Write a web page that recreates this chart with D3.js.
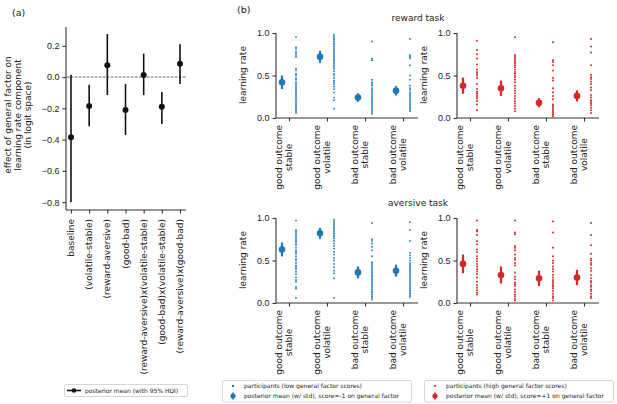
<!DOCTYPE html>
<html>
<head>
<meta charset="utf-8">
<script src="https://cdn.jsdelivr.net/npm/d3@7"></script>
<style>
  body { margin: 0; background: #fff; }
  svg { font-family: "DejaVu Sans", sans-serif; }
  text { fill: #222; }
</style>
</head>
<body>
<div id="chart"></div>
<script>
// ---- panel (a) data: effect of general factor, posterior mean + 95% HDI
const effectNames = ["baseline", "(volatile-stable)", "(reward-aversive)", "(good-bad)",
  "(reward-aversive)x(volatile-stable)", "(good-bad)x(volatile-stable)", "(reward-aversive)x(good-bad)"];
const effectMean = [-0.385, -0.185, 0.075, -0.21, 0.013, -0.19, 0.085];
const effectLow = [-0.80, -0.315, -0.115, -0.37, -0.115, -0.30, -0.045];
const effectHigh = [0.015, -0.05, 0.275, -0.045, 0.15, -0.095, 0.21];
const effectTicks = [0.2, 0.0, -0.2, -0.4, -0.6, -0.8];

// ---- panel (b) data: learning rates per condition
const conditions = [["good outcome", "stable"], ["good outcome", "volatile"], ["bad outcome", "stable"], ["bad outcome", "volatile"]];
const rateTicks = [0, 0.5, 1];

// reward task, score = -1 (low)
const rewardLowMean = [0.42, 0.72, 0.24, 0.32];
const rewardLowStd = [0.08, 0.07, 0.05, 0.055];
const rewardLowPts = [
  [0.95, 0.83, 0.81, 0.78, 0.76, 0.74, 0.72, 0.58, 0.56, 0.52, 0.5, 0.47, 0.45, 0.42, 0.40, 0.38, 0.36, 0.34, 0.32, 0.30, 0.28, 0.26, 0.24, 0.22, 0.20, 0.18, 0.16, 0.14, 0.12, 0.10, 0.08, 0.06],
  [0.98, 0.96, 0.94, 0.92, 0.90, 0.88, 0.86, 0.84, 0.82, 0.80, 0.78, 0.76, 0.74, 0.72, 0.70, 0.68, 0.66, 0.64, 0.62, 0.60, 0.58, 0.55, 0.52, 0.50, 0.47, 0.44, 0.42, 0.40, 0.37, 0.34, 0.30, 0.24, 0.21, 0.11],
  [0.90, 0.70, 0.68, 0.45, 0.42, 0.40, 0.38, 0.35, 0.33, 0.31, 0.29, 0.27, 0.25, 0.23, 0.21, 0.19, 0.17, 0.15, 0.13, 0.11, 0.09, 0.07, 0.05],
  [0.93, 0.74, 0.72, 0.70, 0.62, 0.50, 0.45, 0.38, 0.35, 0.33, 0.30, 0.28, 0.26, 0.24, 0.22, 0.20, 0.18, 0.16, 0.14, 0.12, 0.10, 0.08]
];
// reward task, score = +1 (high)
const rewardHighMean = [0.38, 0.35, 0.18, 0.26];
const rewardHighStd = [0.095, 0.09, 0.053, 0.065];
const rewardHighPts = [
  [0.91, 0.80, 0.75, 0.70, 0.63, 0.57, 0.54, 0.52, 0.50, 0.47, 0.40, 0.34, 0.31, 0.29, 0.27, 0.25, 0.23, 0.20, 0.16, 0.09],
  [0.95, 0.74, 0.72, 0.70, 0.68, 0.66, 0.64, 0.62, 0.60, 0.57, 0.54, 0.52, 0.50, 0.48, 0.45, 0.42, 0.38, 0.35, 0.32, 0.29, 0.26, 0.23, 0.20, 0.17, 0.14, 0.11, 0.08],
  [0.89, 0.68, 0.66, 0.62, 0.56, 0.47, 0.44, 0.35, 0.30, 0.26, 0.22, 0.16, 0.14, 0.12, 0.10, 0.08, 0.06, 0.04, 0.02],
  [0.93, 0.84, 0.77, 0.62, 0.51, 0.48, 0.46, 0.43, 0.40, 0.36, 0.33, 0.27, 0.24, 0.21, 0.19, 0.17, 0.15, 0.12, 0.09, 0.06]
];
// aversive task, score = -1 (low)
const aversiveLowMean = [0.63, 0.82, 0.36, 0.38];
const aversiveLowStd = [0.082, 0.065, 0.07, 0.07];
const aversiveLowPts = [
  [0.97, 0.86, 0.84, 0.82, 0.80, 0.78, 0.76, 0.74, 0.72, 0.70, 0.68, 0.65, 0.62, 0.60, 0.58, 0.55, 0.52, 0.50, 0.47, 0.44, 0.42, 0.40, 0.37, 0.34, 0.30, 0.27, 0.25, 0.19, 0.17, 0.06],
  [0.98, 0.96, 0.94, 0.92, 0.90, 0.88, 0.86, 0.84, 0.82, 0.80, 0.78, 0.76, 0.73, 0.70, 0.67, 0.64, 0.60, 0.57, 0.53, 0.50, 0.46, 0.42, 0.38, 0.35, 0.29, 0.06],
  [0.94, 0.75, 0.73, 0.70, 0.66, 0.62, 0.55, 0.48, 0.46, 0.44, 0.42, 0.40, 0.38, 0.36, 0.34, 0.32, 0.30, 0.28, 0.26, 0.24, 0.22, 0.20, 0.18, 0.16, 0.14, 0.12, 0.10, 0.08, 0.06, 0.04],
  [0.95, 0.86, 0.73, 0.59, 0.56, 0.53, 0.50, 0.47, 0.45, 0.43, 0.41, 0.39, 0.37, 0.35, 0.33, 0.31, 0.29, 0.27, 0.25, 0.23, 0.21, 0.19, 0.17, 0.15, 0.13, 0.11, 0.09, 0.07]
];
// aversive task, score = +1 (high)
const aversiveHighMean = [0.46, 0.33, 0.29, 0.30];
const aversiveHighStd = [0.11, 0.10, 0.09, 0.09];
const aversiveHighPts = [
  [0.97, 0.86, 0.84, 0.80, 0.73, 0.69, 0.63, 0.60, 0.55, 0.52, 0.49, 0.46, 0.43, 0.40, 0.37, 0.34, 0.30, 0.25, 0.21, 0.18, 0.15, 0.12, 0.10],
  [0.97, 0.83, 0.81, 0.67, 0.65, 0.62, 0.57, 0.53, 0.51, 0.47, 0.44, 0.36, 0.31, 0.28, 0.24, 0.22, 0.20, 0.16, 0.13, 0.10, 0.08, 0.05, 0.03],
  [0.96, 0.83, 0.65, 0.55, 0.50, 0.47, 0.43, 0.40, 0.37, 0.33, 0.30, 0.27, 0.25, 0.23, 0.21, 0.19, 0.17, 0.14, 0.11, 0.08, 0.06, 0.03],
  [0.94, 0.80, 0.68, 0.58, 0.52, 0.50, 0.47, 0.45, 0.41, 0.38, 0.33, 0.29, 0.26, 0.24, 0.21, 0.19, 0.16, 0.14, 0.11, 0.08, 0.06]
];

const blue = "#1f77b4", red = "#d62728", axisColor = "#333";

const svg = d3.select("#chart").append("svg")
    .attr("width", 617)
    .attr("height", 404);

// ================= panel (a) =================
const ya = d3.scaleLinear().domain([-0.85, 0.32]).range([210, 27]);
const xa = d3.scalePoint().domain(effectNames).range([71, 180]);

svg.append("text").attr("x", 12).attr("y", 16).attr("font-size", 9.5).text("(a)");

const ga = svg.append("g");
ga.append("g")
    .attr("transform", "translate(66,0)")
    .call(d3.axisLeft(ya).tickValues(effectTicks).tickSize(3.5).tickFormat(d => d3.format(".1f")(d).replace("-", "\u2212")))
    .call(g => g.select(".domain").attr("d", "M0," + 27 + "V" + 210));
ga.append("g")
    .attr("transform", "translate(0,210)")
    .call(d3.axisBottom(xa).tickSize(3.5).tickFormat(""))
    .call(g => g.select(".domain").attr("d", "M66,0H186"));

ga.selectAll(".tick text").attr("font-size", 9).attr("fill", "#222");
ga.selectAll(".domain, .tick line").attr("stroke", axisColor).attr("stroke-width", 1.1);

// rotated x labels
ga.selectAll(".xlab")
    .data(effectNames)
    .enter().append("text")
    .attr("class", "xlab")
    .attr("transform", d => "translate(" + xa(d) + ",219) rotate(-90)")
    .attr("text-anchor", "end")
    .attr("dy", "0.35em")
    .attr("font-size", 9)
    .text(d => d);

// zero line
ga.append("line")
    .attr("x1", 67).attr("x2", 186)
    .attr("y1", ya(0)).attr("y2", ya(0))
    .attr("stroke", "#333").attr("stroke-width", 0.8)
    .attr("stroke-dasharray", "2.5,1.5");

// HDI bars and means
ga.selectAll(".hdi")
    .data(effectNames)
    .enter().append("line")
    .attr("x1", d => xa(d)).attr("x2", d => xa(d))
    .attr("y1", (d, i) => ya(effectLow[i])).attr("y2", (d, i) => ya(effectHigh[i]))
    .attr("stroke", "#111").attr("stroke-width", 1.6);
ga.selectAll(".mean")
    .data(effectNames)
    .enter().append("circle")
    .attr("cx", d => xa(d)).attr("cy", (d, i) => ya(effectMean[i]))
    .attr("r", 3)
    .attr("fill", "#111");

// y label, three lines
const ylab = ga.append("text")
    .attr("transform", "translate(15,115) rotate(-90)")
    .attr("text-anchor", "middle")
    .attr("font-size", 9);
["effect of general factor on", "learning rate component", "(in logit space)"].forEach((t, i) => {
    ylab.append("tspan").attr("x", 0).attr("y", -7 + i * 10).attr("dy", "0.35em").text(t);
});

// legend (a)
const la = ga.append("g");
la.append("rect").attr("x", 64.5).attr("y", 384.5).attr("width", 123).attr("height", 12)
    .attr("fill", "#fff").attr("stroke", "#ccc").attr("stroke-width", 0.8).attr("rx", 1.5);
la.append("line").attr("x1", 67).attr("x2", 81).attr("y1", 390.5).attr("y2", 390.5)
    .attr("stroke", "#111").attr("stroke-width", 1.6);
la.append("circle").attr("cx", 74).attr("cy", 390.5).attr("r", 2.3).attr("fill", "#111");
la.append("text").attr("x", 85).attr("y", 390.5).attr("dy", "0.35em").attr("font-size", 6)
    .text("posterior mean (with 95% HDI)");

// ================= panel (b) =================
svg.append("text").attr("x", 237).attr("y", 13).attr("font-size", 9.5).text("(b)");
svg.append("text").attr("x", 418).attr("y", 21).attr("text-anchor", "middle").attr("font-size", 9).text("reward task");
svg.append("text").attr("x", 418).attr("y", 206).attr("text-anchor", "middle").attr("font-size", 9).text("aversive task");

function drawPanel(left, top, means, stds, pts, color, square) {
    const x = d3.scalePoint().domain(conditions.map(c => c.join(" "))).range([left + 13, left + 127]);
    const y = d3.scaleLinear().domain([0, 1]).range([top + 85, top]);
    const g = svg.append("g");

    g.append("g")
        .attr("transform", "translate(" + left + ",0)")
        .call(d3.axisLeft(y).tickValues(rateTicks).tickSize(3.5).tickFormat(d3.format(".1f")))
        .call(s => s.select(".domain").attr("d", "M0," + top + "V" + (top + 85)));
    g.append("g")
        .attr("transform", "translate(0," + (top + 85) + ")")
        .call(d3.axisBottom(x).tickSize(3.5).tickFormat(""))
        .call(s => s.select(".domain").attr("d", "M" + left + ",0H" + (left + 142)));
    g.selectAll(".tick text").attr("font-size", 9).attr("fill", "#222");
    g.selectAll(".domain, .tick line").attr("stroke", axisColor).attr("stroke-width", 1.1);

    g.append("text")
        .attr("transform", "translate(" + (left - 33) + "," + (top + 42) + ") rotate(-90)")
        .attr("text-anchor", "middle").attr("dy", "0.35em").attr("font-size", 9)
        .text("learning rate");

    // two-line rotated condition labels, second line centred under the first
    conditions.forEach(c => {
        const cx = x(c.join(" "));
        const first = g.append("text")
            .attr("transform", "translate(" + (cx - 10) + "," + (top + 92) + ") rotate(-90)")
            .attr("text-anchor", "end").attr("dy", "0.35em").attr("font-size", 9)
            .text(c[0]);
        const w0 = first.node().getComputedTextLength();
        g.append("text")
            .attr("transform", "translate(" + cx + "," + (top + 92 + w0 / 2) + ") rotate(-90)")
            .attr("text-anchor", "middle").attr("dy", "0.35em").attr("font-size", 9)
            .text(c[1]);
    });

    // participants
    conditions.forEach((c, i) => {
        const cx = x(c.join(" ")) + 7;
        const sel = g.selectAll(".p" + i).data(pts[i]).enter();
        if (square) {
            sel.append("rect")
                .attr("x", cx - 0.8).attr("y", d => y(d) - 0.8)
                .attr("width", 1.6).attr("height", 1.6)
                .attr("fill", color);
        } else {
            sel.append("circle")
                .attr("cx", cx).attr("cy", d => y(d)).attr("r", 1)
                .attr("fill", color);
        }
    });

    // posterior means with std
    conditions.forEach((c, i) => {
        const cx = x(c.join(" ")) - 7;
        g.append("line")
            .attr("x1", cx).attr("x2", cx)
            .attr("y1", y(means[i] - stds[i])).attr("y2", y(means[i] + stds[i]))
            .attr("stroke", color).attr("stroke-width", 2.2);
        g.append("circle")
            .attr("cx", cx).attr("cy", y(means[i])).attr("r", 3.3)
            .attr("fill", color);
    });
}

drawPanel(276, 33, rewardLowMean, rewardLowStd, rewardLowPts, blue, true);
drawPanel(457, 33, rewardHighMean, rewardHighStd, rewardHighPts, red, false);
drawPanel(276, 218, aversiveLowMean, aversiveLowStd, aversiveLowPts, blue, true);
drawPanel(457, 218, aversiveHighMean, aversiveHighStd, aversiveHighPts, red, false);

// legends (b)
function drawLegend(left, color, square, line1, line2) {
    const g = svg.append("g");
    g.append("rect").attr("x", left + 0.5).attr("y", 380.5).attr("width", 189).attr("height", 21.5)
        .attr("fill", "#fff").attr("stroke", "#ccc").attr("stroke-width", 0.8).attr("rx", 1.5);
    if (square) {
        g.append("rect").attr("x", left + 10).attr("y", 385).attr("width", 2).attr("height", 2).attr("fill", color);
    } else {
        g.append("circle").attr("cx", left + 11).attr("cy", 386).attr("r", 1.1).attr("fill", color);
    }
    g.append("line").attr("x1", left + 11).attr("x2", left + 11).attr("y1", 392.5).attr("y2", 399.5)
        .attr("stroke", color).attr("stroke-width", 1.6);
    g.append("circle").attr("cx", left + 11).attr("cy", 396).attr("r", 2.6).attr("fill", color);
    g.append("text").attr("x", left + 22).attr("y", 386).attr("dy", "0.35em").attr("font-size", 6).text(line1);
    g.append("text").attr("x", left + 22).attr("y", 396).attr("dy", "0.35em").attr("font-size", 6).text(line2);
}
drawLegend(222, blue, true, "participants (low general factor scores)", "posterior mean (w/ std), score=-1 on general factor");
drawLegend(424, red, false, "participants (high general factor scores)", "posterior mean (w/ std), score=+1 on general factor");
</script>
</body>
</html>
